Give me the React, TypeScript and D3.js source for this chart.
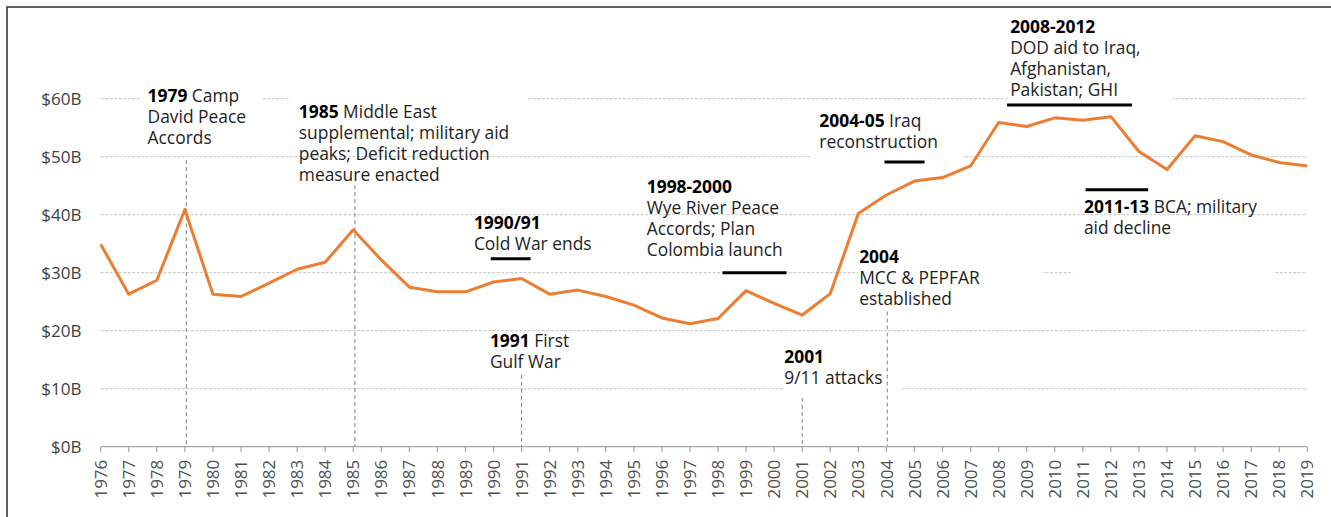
import React from "react";
import * as d3 from "d3";

const years: number[] = d3.range(1976, 2020);
const values: number[] = [
  34.9, 26.3, 28.7, 40.9, 26.3, 25.9, 28.2, 30.6, 31.8, 37.4,
  32.2, 27.5, 26.7, 26.7, 28.4, 29.0, 26.3, 27.0, 25.9, 24.4,
  22.2, 21.2, 22.1, 26.9, 24.7, 22.7, 26.4, 40.2, 43.4, 45.8,
  46.4, 48.4, 55.9, 55.2, 56.7, 56.3, 56.9, 50.9, 47.8, 53.6,
  52.6, 50.3, 49.0, 48.4,
];
const yTicks: number[] = [0, 10, 20, 30, 40, 50, 60];
const yTickLabels: string[] = ["$0B", "$10B", "$20B", "$30B", "$40B", "$50B", "$60B"];

type Line = { bold?: string; text?: string };
type Note = { year: number; value: number; lines: Line[]; box?: [number, number, number, number] };

// anchors in data units (year, value) for the first baseline
const notes: Note[] = [
  { year: 1977.67, value: 59.5, lines: [{ bold: "1979", text: " Camp" }, { text: "David Peace" }, { text: "Accords" }], box: [-8, -17, 123, 65] },
  { year: 1983.06, value: 56.7, lines: [{ bold: "1985", text: " Middle East" }, { text: "supplemental; military aid" }, { text: "peaks; Deficit reduction" }, { text: "measure enacted" }], box: [-9, -30, 237, 36] },
  { year: 1989.3, value: 37.5, lines: [{ bold: "1990/91" }, { text: "Cold War ends" }] },
  { year: 1989.87, value: 17.24, lines: [{ bold: "1991", text: " First" }, { text: "Gulf War" }] },
  { year: 1995.46, value: 43.7, lines: [{ bold: "1998-2000" }, { text: "Wye River Peace" }, { text: "Accords; Plan" }, { text: "Colombia launch" }] },
  { year: 2000.36, value: 14.45, lines: [{ bold: "2001" }, { text: "9/11 attacks" }], box: [-1, -15, 119, 45] },
  { year: 2003.03, value: 31.6, lines: [{ bold: "2004" }, { text: "MCC & PEPFAR" }, { text: "established" }], box: [-1, -13, 185, 48] },
  { year: 2001.61, value: 55.07, lines: [{ bold: "2004-05", text: " Iraq" }, { text: "reconstruction" }], box: [-9, -15, 153, 46] },
  { year: 2008.41, value: 71.4, lines: [{ bold: "2008-2012" }, { text: "DOD aid to Iraq," }, { text: "Afghanistan," }, { text: "Pakistan; GHI" }], box: [-2, -18, 165, 88] },
  { year: 2011.04, value: 40.3, lines: [{ bold: "2011-13", text: " BCA; military" }, { text: "aid decline" }], box: [-11, 9, 200, 56] },
];

// black range bars: [startYear, endYear, value]
const bars: [number, number, number][] = [
  [1989.9, 1991.32, 32.4],
  [1998.16, 2000.44, 30.0],
  [2003.93, 2005.36, 49.1],
  [2008.3, 2012.75, 58.9],
  [2011.1, 2013.33, 44.3],
];

// dashed event lines: [year, top value]
const eventLines: [number, number][] = [
  [1979.05, 49.4],
  [1985.06, 45.1],
  [1991, 12.4],
  [2001, 8.4],
  [2004.03, 23.3],
];

const W = 1331;
const H = 517;
const FONT = "'Open Sans', sans-serif";

export default function App() {
  const x = d3.scaleLinear().domain([1976, 2019]).range([100.7, 1307.3]);
  const y = d3.scaleLinear().domain([0, 60]).range([446.7, 98.7]);
  const line = d3
    .line<number>()
    .x((_, i) => x(years[i]))
    .y((d) => y(d));
  const lh = 21;

  return (
    <svg width={W} height={H} style={{ position: "absolute", left: 0, top: 0, background: "#fff" }} fontFamily={FONT}>
      <rect x={0} y={0} width={W} height={H} fill="#fff" />
      <rect x={7} y={7} width={W + 20} height={H + 20} fill="none" stroke="#3a3a3a" strokeWidth={1.6} />
      {/* gridlines */}
      {yTicks.filter((t) => t > 0).map((t) => (
        <line key={t} x1={x(1976)} x2={x(2019)} y1={y(t)} y2={y(t)} stroke="#c4c4c4" strokeWidth={1} strokeDasharray="3,1.5" />
      ))}
      {/* white text boxes */}
      {notes.filter((n) => n.box).map((n, i) => (
        <rect key={i} x={x(n.year) + n.box![0]} y={y(n.value) + n.box![1]} width={n.box![2]} height={n.box![3]} fill="#fff" />
      ))}
      {/* event dashed lines */}
      {eventLines.map(([yr, v], i) => (
        <line key={i} x1={x(yr)} x2={x(yr)} y1={y(v)} y2={y(0)} stroke="#808080" strokeWidth={1} strokeDasharray="4,3" />
      ))}
      {/* y labels */}
      {yTicks.map((t, i) => (
        <text key={t} x={81.5} y={y(t)} dy="0.36em" textAnchor="end" fontSize={17} fill="#404040">
          {yTickLabels[i]}
        </text>
      ))}
      {/* x axis */}
      <line x1={x(1976)} x2={x(2019)} y1={y(0)} y2={y(0)} stroke="#a6a6a6" strokeWidth={1.2} />
      {years.map((yr) => (
        <g key={yr}>
          <line x1={x(yr)} x2={x(yr)} y1={y(0)} y2={y(0) + 5.5} stroke="#a6a6a6" strokeWidth={1.2} />
          <text transform={`translate(${x(yr)},${y(0) + 13}) rotate(-90)`} dy="0.36em" textAnchor="end" fontSize={17} fill="#505050">
            {yr}
          </text>
        </g>
      ))}
      {/* data line */}
      <path d={line(values) || ""} fill="none" stroke="#ED7D31" strokeWidth={3} strokeLinejoin="round" />
      {/* bars */}
      {bars.map(([a, b, v], i) => (
        <line key={i} x1={x(a)} x2={x(b)} y1={y(v)} y2={y(v)} stroke="#000" strokeWidth={3} />
      ))}
      {/* annotation text */}
      {notes.map((n, i) => (
        <text key={i} x={x(n.year)} y={y(n.value)} fontSize={17.4} fill="#1e1e1e">
          {n.lines.map((l, j) => (
            <tspan key={j} x={x(n.year)} dy={j === 0 ? 0 : lh}>
              {l.bold ? <tspan fontWeight={700} fill="#000">{l.bold}</tspan> : null}
              {l.text ? <tspan>{l.text}</tspan> : null}
            </tspan>
          ))}
        </text>
      ))}
    </svg>
  );
}
